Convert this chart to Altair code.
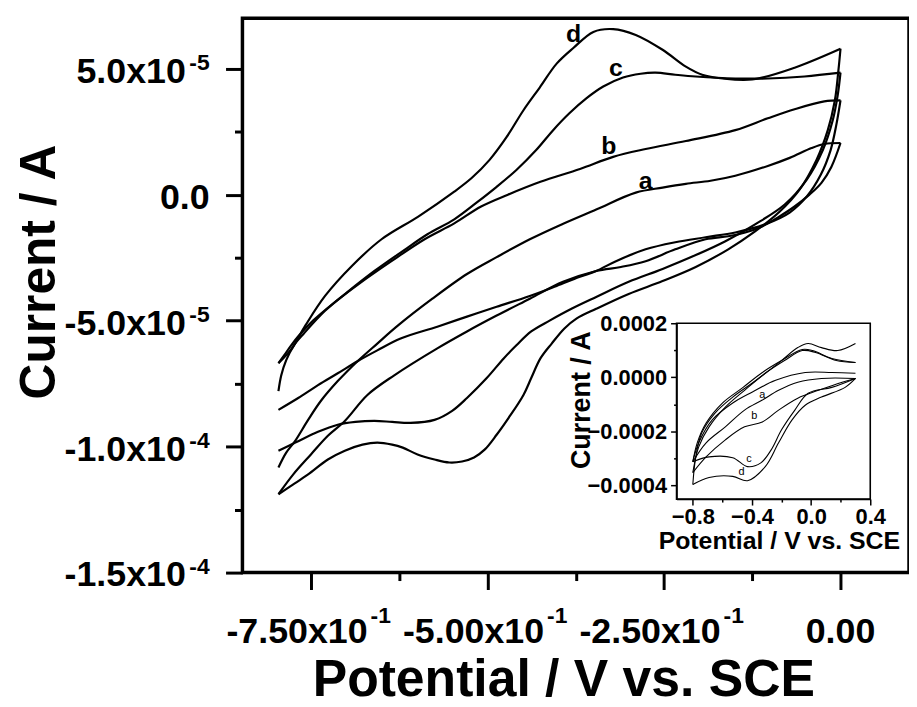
import altair as alt
import pandas as pd

FONT = "Liberation Sans"

# ---------------- axis domains ----------------
X_DOMAIN = [-0.847, 0.097]          # potential / V
Y_DOMAIN = [-1.5e-4, 7.0e-5]        # current / A
INSET_X_DOMAIN = [-0.91, 0.4]
INSET_Y_DOMAIN = [-4.5e-4, 2.0e-4]

# ---------------- main plot curves: (potential / V, current / 1e-5 A) ----------------
A_LOWER = [(0.0, 2.05), (-0.013, 1.10), (-0.027, 0.47), (-0.044, 0.0), (-0.065, -0.47),
           (-0.089, -0.91), (-0.111, -1.26), (-0.135, -1.50), (-0.159, -1.65), (-0.191, -1.77),
           (-0.234, -2.17), (-0.276, -2.64), (-0.311, -2.87), (-0.346, -3.03), (-0.393, -3.46),
           (-0.440, -4.13), (-0.487, -4.80), (-0.529, -5.43), (-0.571, -6.10), (-0.632, -7.17),
           (-0.670, -7.95), (-0.702, -8.98), (-0.726, -9.57), (-0.750, -10.31), (-0.775, -11.10),
           (-0.796, -11.89)]
A_UPPER = [(-0.796, -10.83), (-0.785, -10.24), (-0.772, -9.76), (-0.754, -8.94), (-0.736, -8.19),
           (-0.712, -7.40), (-0.684, -6.61), (-0.656, -5.91), (-0.627, -5.20), (-0.578, -4.13),
           (-0.529, -3.15), (-0.487, -2.48), (-0.440, -1.77), (-0.395, -1.18), (-0.346, -0.59),
           (-0.290, 0.08), (-0.252, 0.28), (-0.219, 0.43), (-0.184, 0.55), (-0.149, 0.75),
           (-0.103, 1.14), (-0.072, 1.46), (-0.041, 1.85), (-0.023, 2.01), (0.0, 2.05)]
B_LOWER = [(0.0, 3.74), (-0.006, 2.76), (-0.014, 1.77), (-0.028, 0.79), (-0.048, -0.08),
           (-0.072, -0.71), (-0.107, -1.18), (-0.149, -1.50), (-0.191, -1.69), (-0.234, -1.89),
           (-0.276, -2.17), (-0.318, -2.64), (-0.346, -3.03), (-0.370, -3.27), (-0.402, -3.62),
           (-0.440, -4.02), (-0.487, -4.45), (-0.529, -4.84), (-0.571, -5.24), (-0.623, -5.71),
           (-0.656, -6.18), (-0.684, -6.61), (-0.712, -7.09), (-0.740, -7.56), (-0.768, -8.07),
           (-0.796, -8.54)]
B_UPPER = [(-0.796, -6.69), (-0.788, -6.38), (-0.778, -5.98), (-0.767, -5.59), (-0.747, -5.00),
           (-0.719, -4.33), (-0.682, -3.54), (-0.636, -2.64), (-0.589, -1.77), (-0.547, -1.14),
           (-0.509, -0.47), (-0.471, 0.0), (-0.425, 0.51), (-0.369, 1.02), (-0.322, 1.50),
           (-0.276, 1.81), (-0.219, 2.13), (-0.149, 2.56), (-0.103, 3.03), (-0.065, 3.39),
           (-0.023, 3.70), (0.0, 3.74)]
C_LOWER = [(0.0, 4.84), (-0.004, 3.94), (-0.011, 2.95), (-0.025, 1.77), (-0.048, 0.59),
           (-0.079, -0.39), (-0.121, -1.18), (-0.163, -1.85), (-0.205, -2.40), (-0.252, -2.95),
           (-0.300, -3.46), (-0.346, -4.06), (-0.381, -4.53), (-0.412, -5.00), (-0.438, -5.43),
           (-0.459, -5.98), (-0.477, -6.50), (-0.501, -7.28), (-0.529, -8.07), (-0.550, -8.58),
           (-0.575, -8.94), (-0.609, -9.06), (-0.635, -9.02), (-0.660, -8.98), (-0.687, -9.02),
           (-0.712, -9.13), (-0.740, -9.41), (-0.772, -9.84), (-0.796, -10.16)]
C_UPPER = [(-0.796, -7.80), (-0.792, -7.17), (-0.785, -6.57), (-0.774, -5.98), (-0.760, -5.51),
           (-0.730, -4.61), (-0.698, -3.86), (-0.660, -3.03), (-0.620, -2.24), (-0.585, -1.57),
           (-0.547, -0.98), (-0.515, -0.31), (-0.487, 0.31), (-0.459, 0.98), (-0.431, 1.77),
           (-0.407, 2.56), (-0.384, 3.23), (-0.360, 3.82), (-0.336, 4.29), (-0.308, 4.65),
           (-0.283, 4.80), (-0.262, 4.84), (-0.234, 4.76), (-0.205, 4.69), (-0.149, 4.61),
           (-0.103, 4.61), (-0.051, 4.69), (0.0, 4.84)]
D_LOWER = [(0.0, 5.79), (-0.003, 4.92), (-0.008, 3.74), (-0.018, 2.56), (-0.034, 1.38),
           (-0.058, 0.20), (-0.086, -0.67), (-0.121, -1.46), (-0.159, -2.17), (-0.205, -2.87),
           (-0.252, -3.43), (-0.300, -3.94), (-0.346, -4.53), (-0.374, -4.92), (-0.391, -5.31),
           (-0.409, -5.91), (-0.425, -6.50), (-0.438, -7.28), (-0.449, -7.95), (-0.470, -8.86),
           (-0.487, -9.53), (-0.504, -10.12), (-0.519, -10.43), (-0.536, -10.59), (-0.554, -10.63),
           (-0.575, -10.51), (-0.599, -10.31), (-0.620, -10.04), (-0.635, -9.92), (-0.656, -9.84),
           (-0.677, -9.92), (-0.702, -10.16), (-0.726, -10.51), (-0.754, -11.10), (-0.775, -11.50),
           (-0.796, -11.89)]
D_UPPER = [(-0.796, -6.69), (-0.777, -6.10), (-0.758, -5.20), (-0.730, -4.02), (-0.692, -2.83),
           (-0.650, -1.77), (-0.598, -0.87), (-0.547, 0.12), (-0.522, 0.67), (-0.497, 1.38),
           (-0.473, 2.28), (-0.449, 3.35), (-0.426, 4.25), (-0.402, 5.20), (-0.378, 5.83),
           (-0.350, 6.46), (-0.322, 6.57), (-0.290, 6.34), (-0.252, 5.75), (-0.219, 5.08),
           (-0.196, 4.76), (-0.167, 4.61), (-0.125, 4.57), (-0.065, 5.04), (0.0, 5.79)]

# ---------------- inset curves: (potential / V, current / 1e-4 A) ----------------
IA_LOWER = [(0.30, -0.04), (0.07, -0.04), (-0.09, -0.18), (-0.22, -0.48), (-0.33, -0.84),
            (-0.45, -1.21), (-0.58, -1.83), (-0.71, -2.42), (-0.80, -3.12)]
IA_UPPER = [(-0.80, -3.12), (-0.76, -2.42), (-0.67, -1.58), (-0.53, -0.95), (-0.40, -0.55),
            (-0.24, -0.11), (-0.04, 0.18), (0.14, 0.18), (0.30, 0.15)]
IB_LOWER = [(0.30, -0.04), (0.21, -0.18), (0.05, -0.48), (-0.09, -0.77), (-0.22, -1.21),
            (-0.33, -1.65), (-0.45, -1.83), (-0.58, -2.31), (-0.71, -2.94), (-0.80, -3.52)]
IB_UPPER = [(-0.80, -3.52), (-0.76, -2.57), (-0.69, -1.83), (-0.58, -1.10), (-0.45, -0.48),
            (-0.31, 0.15), (-0.18, 0.62), (-0.06, 0.99), (0.03, 0.92), (0.17, 0.62), (0.30, 0.55)]
IC_LOWER = [(0.30, -0.04), (0.14, -0.37), (-0.02, -0.59), (-0.11, -1.21), (-0.20, -1.94),
            (-0.27, -2.68), (-0.34, -3.16), (-0.43, -3.30), (-0.53, -2.97), (-0.69, -2.94),
            (-0.80, -3.12)]
IC_UPPER = [(-0.80, -3.12), (-0.77, -2.42), (-0.71, -1.69), (-0.60, -0.95), (-0.46, -0.37),
            (-0.33, 0.18), (-0.20, 0.62), (-0.06, 1.03), (0.01, 0.99), (0.14, 0.70), (0.30, 0.55)]
ID_LOWER = [(0.30, -0.04), (0.23, -0.37), (0.07, -0.73), (-0.04, -1.03), (-0.13, -1.58),
            (-0.22, -2.42), (-0.31, -3.30), (-0.43, -3.82), (-0.53, -3.66), (-0.69, -3.70),
            (-0.80, -3.96)]
ID_UPPER = [(-0.80, -3.96), (-0.78, -2.94), (-0.74, -2.06), (-0.65, -1.32), (-0.53, -0.73),
            (-0.40, -0.22), (-0.31, 0.15), (-0.20, 0.62), (-0.09, 1.10), (-0.02, 1.25),
            (0.07, 1.10), (0.18, 0.99), (0.30, 1.25)]

# ---------------- curve labels ----------------
CURVE_NAMES = ["a", "b", "c", "d"]
MAIN_LABEL_E = [-0.276, -0.328, -0.318, -0.378]
MAIN_LABEL_I = [0.24, 1.61, 4.69, 6.06]          # 1e-5 A
INSET_LABEL_E = [-0.33, -0.385, -0.42, -0.47]
INSET_LABEL_I = [-0.78, -1.55, -3.12, -3.62]     # 1e-4 A

# ---------------- tick values / labels ----------------
X_TICKS = [-0.75, -0.625, -0.5, -0.375, -0.25, -0.125, 0.0]
Y_TICKS = [-1.5e-4, -1.25e-4, -1.0e-4, -7.5e-5, -5.0e-5, -2.5e-5, 0.0, 2.5e-5, 5.0e-5]
X_MAJOR = [-0.75, -0.5, -0.25, 0.0]
X_BASE = ["-7.50x10", "-5.00x10", "-2.50x10", "0.00"]
X_EXP = ["-1", "-1", "-1", ""]
Y_MAJOR = [-1.5e-4, -1.0e-4, -5.0e-5, 0.0, 5.0e-5]
Y_BASE = ["-1.5x10", "-1.0x10", "-5.0x10", "0.0", "5.0x10"]
Y_EXP = ["-4", "-4", "-5", "", "-5"]
INSET_X_TICKS = [-0.8, -0.6, -0.4, -0.2, 0.0, 0.2, 0.4]
INSET_Y_TICKS = [2e-4, 1e-4, 0.0, -1e-4, -2e-4, -3e-4, -4e-4]


def to_frame(branches, unit):
    rows = []
    for name, pts in branches.items():
        for i, (e, c) in enumerate(pts):
            rows.append({"branch": name, "i": i, "E": e, "I": c * unit})
    return pd.DataFrame(rows)


main_df = to_frame({"a_lower": A_LOWER, "a_upper": A_UPPER, "b_lower": B_LOWER, "b_upper": B_UPPER,
                    "c_lower": C_LOWER, "c_upper": C_UPPER, "d_lower": D_LOWER, "d_upper": D_UPPER}, 1e-5)
inset_df = to_frame({"a_lower": IA_LOWER, "a_upper": IA_UPPER, "b_lower": IB_LOWER, "b_upper": IB_UPPER,
                     "c_lower": IC_LOWER, "c_upper": IC_UPPER, "d_lower": ID_LOWER, "d_upper": ID_UPPER}, 1e-4)
main_lab_df = pd.DataFrame({"name": CURVE_NAMES, "E": MAIN_LABEL_E, "I": [v * 1e-5 for v in MAIN_LABEL_I]})
inset_lab_df = pd.DataFrame({"name": CURVE_NAMES, "E": INSET_LABEL_E, "I": [v * 1e-4 for v in INSET_LABEL_I]})
xt_df = pd.DataFrame({"v": X_MAJOR, "base": X_BASE, "exp": X_EXP})
yt_df = pd.DataFrame({"v": Y_MAJOR, "base": Y_BASE, "exp": Y_EXP})

xs = alt.Scale(domain=X_DOMAIN, nice=False, zero=False)
ys = alt.Scale(domain=Y_DOMAIN, nice=False, zero=False)
xs_in = alt.Scale(domain=INSET_X_DOMAIN, range=[437, 632], nice=False, zero=False)
ys_in = alt.Scale(domain=INSET_Y_DOMAIN, range=[484, 307], nice=False, zero=False)

main_x_axis = alt.Axis(
    orient="bottom", values=X_TICKS, grid=False, domain=False, labels=False,
    tickSize={"condition": {"test": "abs(datum.value*4 - round(datum.value*4)) < 0.001", "value": 17}, "value": 8},
    tickWidth=3, tickColor="black",
    title="Potential / V vs. SCE", titleFont=FONT, titleFontSize=52, titleFontWeight="bold",
    titleColor="black", titleX=323, titleY=124, titleAlign="center", titleBaseline="alphabetic",
)
main_y_axis = alt.Axis(
    orient="left", values=Y_TICKS, grid=False, domain=False, labels=False,
    tickSize={"condition": {"test": "abs(datum.value/5e-5 - round(datum.value/5e-5)) < 0.001", "value": 17}, "value": 8},
    tickWidth=3, tickColor="black",
    title="Current / A", titleFont=FONT, titleFontSize=50, titleFontWeight="bold",
    titleColor="black", titleX=-189, titleY=255, titleAngle=270, titleAlign="center",
    titleBaseline="alphabetic",
)

MX = alt.X("E:Q", scale=xs, axis=main_x_axis)
MY = alt.Y("I:Q", scale=ys, axis=main_y_axis)

main_lines = alt.Chart(main_df).mark_line(color="black", strokeWidth=2.2, interpolate="catmull-rom").encode(
    x=MX, y=MY, detail="branch:N", order="i:Q",
)
main_labels = alt.Chart(main_lab_df).mark_text(
    font=FONT, fontSize=25, fontWeight="bold", align="center", baseline="alphabetic", color="black"
).encode(x=MX, y=MY, text="name:N")

num_style = dict(font=FONT, fontWeight="bold", color="black", baseline="alphabetic")
y_base = alt.Chart(yt_df).transform_filter("datum.exp != ''").transform_calculate(E=str(X_DOMAIN[0])).mark_text(
    align="right", dx=-57, dy=14, fontSize=36, **num_style
).encode(x=MX, y=alt.Y("v:Q", scale=ys, axis=main_y_axis), text="base:N")
y_zero = alt.Chart(yt_df).transform_filter("datum.exp == ''").transform_calculate(E=str(X_DOMAIN[0])).mark_text(
    align="right", dx=-33, dy=14, fontSize=36, **num_style
).encode(x=MX, y=alt.Y("v:Q", scale=ys, axis=main_y_axis), text="base:N")
y_exp = alt.Chart(yt_df).transform_filter("datum.exp != ''").transform_calculate(E=str(X_DOMAIN[0])).mark_text(
    align="right", dx=-33, dy=1, fontSize=23, **num_style
).encode(x=MX, y=alt.Y("v:Q", scale=ys, axis=main_y_axis), text="exp:N")

x_base = alt.Chart(xt_df).transform_filter("datum.exp != ''").transform_calculate(I=str(Y_DOMAIN[0])).mark_text(
    align="right", dx=57, dy=71, fontSize=36, **num_style
).encode(x=alt.X("v:Q", scale=xs, axis=main_x_axis), y=MY, text="base:N")
x_zero = alt.Chart(xt_df).transform_filter("datum.exp == ''").transform_calculate(I=str(Y_DOMAIN[0])).mark_text(
    align="center", dx=0, dy=71, fontSize=36, **num_style
).encode(x=alt.X("v:Q", scale=xs, axis=main_x_axis), y=MY, text="base:N")
x_exp = alt.Chart(xt_df).transform_filter("datum.exp != ''").transform_calculate(I=str(Y_DOMAIN[0])).mark_text(
    align="left", dx=60, dy=51, fontSize=23, **num_style
).encode(x=alt.X("v:Q", scale=xs, axis=main_x_axis), y=MY, text="exp:N")

main = alt.layer(main_lines, main_labels, y_base, y_zero, y_exp, x_base, x_zero, x_exp)

inset_x_axis = alt.Axis(
    orient="bottom", offset=-74, values=INSET_X_TICKS, grid=False,
    domain=True, domainColor="black", domainWidth=1.5,
    tickSize={"condition": {"test": "abs(datum.value/0.4 - round(datum.value/0.4)) < 0.01", "value": 6}, "value": 3},
    tickWidth=1.5, tickColor="black",
    labelExpr="abs(datum.value/0.4 - round(datum.value/0.4)) < 0.01 ? format(datum.value, '.1f') : ''",
    labelFont=FONT, labelFontSize=22, labelFontWeight="bold", labelColor="black",
    labelPadding=2, labelOverlap=False, labelFlush=False,
    title="Potential / V vs. SCE", titleFont=FONT, titleFontSize=25, titleFontWeight="bold",
    titleColor="black", titleX=540, titleY=50, titleAlign="center", titleBaseline="alphabetic",
)
inset_y_axis = alt.Axis(
    orient="left", offset=-437, values=INSET_Y_TICKS, grid=False,
    domain=True, domainColor="black", domainWidth=1.5,
    tickSize={"condition": {"test": "abs(datum.value/0.0002 - round(datum.value/0.0002)) < 0.01", "value": 6}, "value": 3},
    tickWidth=1.5, tickColor="black",
    labelExpr="abs(datum.value/0.0002 - round(datum.value/0.0002)) < 0.01 ? format(datum.value, '.4f') : ''",
    labelFont=FONT, labelFontSize=22, labelFontWeight="bold", labelColor="black",
    labelPadding=4, labelOverlap=False, labelFlush=False,
    title="Current / A", titleFont=FONT, titleFontSize=27, titleFontWeight="bold",
    titleColor="black", titleX=-88, titleY=384, titleAngle=270, titleAlign="center",
    titleBaseline="alphabetic",
)

IX = alt.X("E:Q", scale=xs_in, axis=inset_x_axis)
IY = alt.Y("I:Q", scale=ys_in, axis=inset_y_axis)

inset_frame = alt.Chart(pd.DataFrame({"k": [0]})).transform_calculate(
    E=str(INSET_X_DOMAIN[0]), E2=str(INSET_X_DOMAIN[1]),
    I=str(INSET_Y_DOMAIN[0]), I2=str(INSET_Y_DOMAIN[1]),
).mark_rect(fillOpacity=0, stroke="black", strokeWidth=1.6).encode(
    x=IX, x2="E2:Q", y=IY, y2="I2:Q",
)
inset_lines = alt.Chart(inset_df).mark_line(color="black", strokeWidth=1.1, interpolate="catmull-rom").encode(
    x=IX, y=IY, detail="branch:N", order="i:Q",
)
inset_labels = alt.Chart(inset_lab_df).mark_text(
    font=FONT, fontSize=11, align="center", baseline="alphabetic", color="black"
).encode(x=IX, y=IY, text="name:N")

inset = alt.layer(inset_frame, inset_lines, inset_labels)

chart = alt.layer(main, inset).resolve_scale(x="independent", y="independent").properties(
    width=671, height=558,
    padding={"left": 236, "top": 8, "right": 0, "bottom": 140},
    autosize=alt.AutoSizeParams(type="none"),
    background="white",
).configure_view(stroke="black", strokeWidth=3.5)

chart.save("out.html", embed_options={"renderer": "svg", "actions": False})
